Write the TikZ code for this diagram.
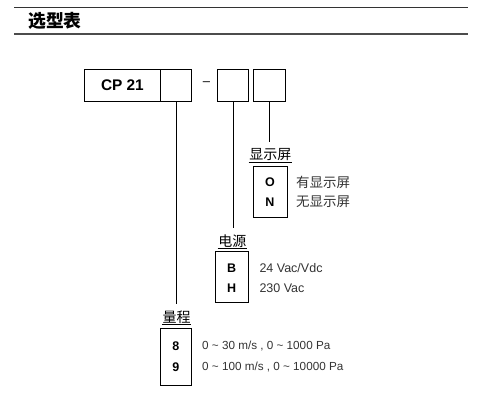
\documentclass[tikz,border=0pt]{standalone}
\usepackage{fontspec}
\setmainfont{Liberation Sans}
\newfontfamily\cjk{Noto Sans CJK SC}
\usetikzlibrary{positioning}

\begin{document}
\begin{tikzpicture}[x=1pt, y=-1pt,
	codebox/.style={draw, line width=0.7pt, minimum height=32pt, inner sep=0pt},
	optbox/.style={draw, line width=0.7pt, inner sep=0pt},
	grouplbl/.style={font=\cjk\fontsize{14}{14}\selectfont, inner sep=0.5pt},
	optkey/.style={font=\bfseries\fontsize{12.5}{12.5}\selectfont, inner sep=0pt},
	optdesc/.style={anchor=west, font=\fontsize{12.5}{12.5}\selectfont, text=black!80, inner sep=0pt},
	rngdesc/.style={optdesc, font=\fontsize{11.7}{11.7}\selectfont},
	cjkdesc/.style={optdesc, font=\cjk\fontsize{13.5}{13.5}\selectfont},
	stem/.style={line width=0.7pt, shorten >=6pt}]
	\useasboundingbox (0,0) rectangle (481,418);
	% Heading:
	\draw[line width=0.8pt, black!80] (14,7) -- (468,7);
	\draw[line width=1.3pt, black!70] (14,34) -- (468,34);
	\node[font=\cjk\bfseries\fontsize{17.8}{17.8}\selectfont] (title) at (55,21){选型表};
	% Order code:
	\node[codebox, minimum width=76.7pt, font=\bfseries\fontsize{15.4}{15.4}\selectfont] (cp) at (122.4,85){CP 21};
	\node[codebox, minimum width=31pt] (b2) at (176.2,85){};
	\node[font=\fontsize{13}{13}\selectfont, inner sep=0pt] (dash) at (206.5,84){--};
	\node[codebox, minimum width=30.6pt] (b3) at (233,85){};
	\node[codebox, minimum width=31.3pt] (b4) at (269.4,85){};
	% Display:
	\node[grouplbl] (dsplbl) at (270.3,155){显示屏};
	\draw[line width=0.6pt] (dsplbl.south west) -- (dsplbl.south east);
	\node[optbox, minimum width=34.4pt, minimum height=51.3pt] (dspbox) at (270.5,191.7){};
	\node[optkey] (dspo) at (270,182){O};
	\node[optkey] (dspn) at (270,202){N};
	\node[cjkdesc] (dspodesc) at (296,182){有显示屏};
	\node[cjkdesc] (dspndesc) at (296,202){无显示屏};
	% Power:
	\node[grouplbl] (pwrlbl) at (232.3,241){电源};
	\draw[line width=0.6pt] (pwrlbl.south west) -- (pwrlbl.south east);
	\node[optbox, minimum width=33.3pt, minimum height=51pt] (pwrbox) at (231.7,277.2){};
	\node[optkey] (pwrb) at (231.7,268){B};
	\node[optkey] (pwrh) at (231.7,288.3){H};
	\node[optdesc] (pwrbdesc) at (259.3,268){24 Vac/Vdc};
	\node[optdesc] (pwrhdesc) at (259.3,288.3){230 Vac};
	% Range:
	\node[grouplbl] (rnglbl) at (176.7,317.5){量程};
	\draw[line width=0.6pt] (rnglbl.south west) -- (rnglbl.south east);
	\node[optbox, minimum width=31.7pt, minimum height=56.7pt] (rngbox) at (175.8,356.7){};
	\node[optkey] (rng8) at (175.8,345.7){8};
	\node[optkey] (rng9) at (175.8,366.7){9};
	\node[rngdesc] (rng8desc) at (202,345.7){0 \char`\~{} 30 m/s , 0 \char`\~{} 1000 Pa};
	\node[rngdesc] (rng9desc) at (202,366.7){0 \char`\~{} 100 m/s , 0 \char`\~{} 10000 Pa};
	% Stems:
	\draw[stem] (b2.south) -- (b2.south |- rnglbl.north);
	\draw[stem] (b3.south) -- (b3.south |- pwrlbl.north);
	\draw[stem] (b4.south) -- (b4.south |- dsplbl.north);
\end{tikzpicture}
\end{document}
